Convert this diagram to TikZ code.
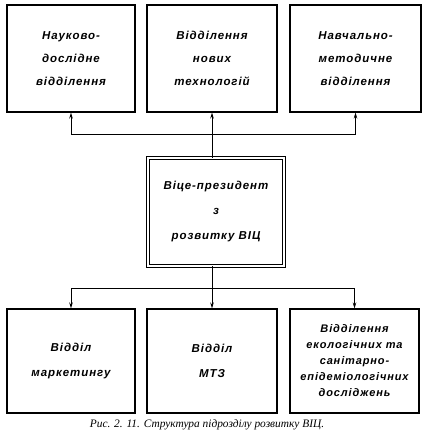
\documentclass[tikz,border=0pt]{standalone}
\usepackage{fontspec}
\setmainfont{Liberation Serif}
\newfontfamily\boxfont[LetterSpace=8]{Liberation Sans}
\usetikzlibrary{arrows.meta}
\tikzset{
  box/.style={draw, line width=1.1pt, inner sep=0pt, align=center,
    font=\boxfont\bfseries\itshape\fontsize{11.5}{23}\selectfont},
  arr/.style={line width=0.8pt, -{Stealth[length=6pt,width=3.5pt]}},
  ln/.style={line width=0.8pt}
}
\begin{document}
\begin{tikzpicture}[x=1pt,y=-1pt]
\useasboundingbox (0,0) rectangle (428,435);
% top row
\node[box, minimum width=128, minimum height=107] (b1) at (71,58.5) {Науково-\\дослідне\\відділення};
\node[box, minimum width=130, minimum height=107] (b2) at (212,58.5) {Відділення\\нових\\технологій};
\node[box, minimum width=131, minimum height=107] (b3) at (355.5,58.5) {Навчально-\\методичне\\відділення};
% centre
\node[box, double, double distance=2pt, line width=0.7pt, minimum width=136, minimum height=108,
  font=\boxfont\bfseries\itshape\fontsize{11.5}{25}\selectfont] (c) at (216,212)
  {Віце-президент\\з\\розвитку ВІЦ};
% bottom row
\node[box, minimum width=128, minimum height=104] (b4) at (71,361) {Відділ\\[2pt]маркетингу};
\node[box, minimum width=130, minimum height=104] (b5) at (212,361) {Відділ\\[2pt]МТЗ};
\node[box, minimum width=129, minimum height=104,
  font=\boxfont\bfseries\itshape\fontsize{11}{16}\selectfont] (b6) at (354.5,361)
  {Відділення\\екологічних та\\санітарно-\\епідеміологічних\\досліджень};
% connectors
\coordinate (bt) at (212,134);
\coordinate (bb) at (212,288);
\draw[arr] (c.north -| bt) -- (b2.south);
\draw[arr] (bt) -| (b1.south);
\draw[arr] (bt) -| (b3.south);
\draw[ln] (c.south -| bb) -- (bb);
\draw[arr] (bb) -| (b4.north);
\draw[arr] (bb) -| (b6.north);
\draw[arr] (bb) -- (b5.north);
% caption
\node[font=\itshape\fontsize{11.4}{13}\selectfont, inner sep=0pt] (cap) at (207,425)
  {Рис. 2. 11. Структура підрозділу розвитку ВІЦ.};
\end{tikzpicture}
\end{document}
